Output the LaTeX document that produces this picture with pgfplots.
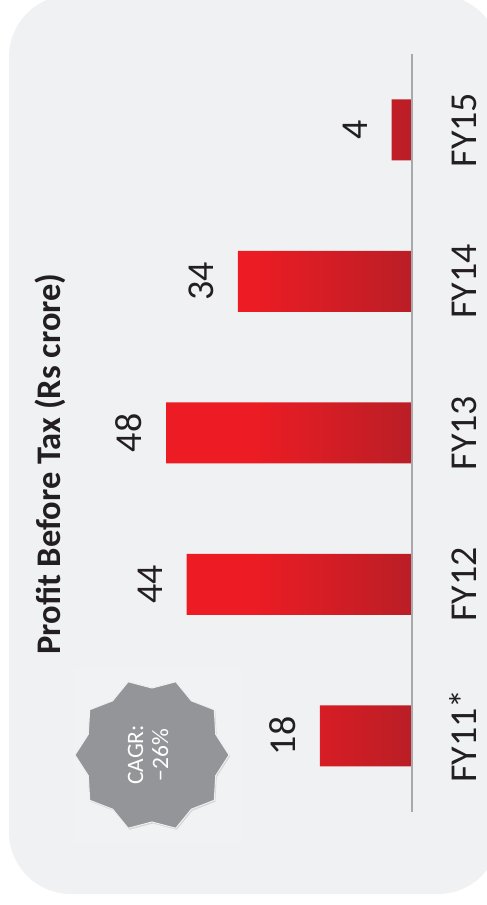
\documentclass[border=0pt]{standalone}
\usepackage{fontspec}
\setmainfont{Carlito}
\usepackage{pgfplots}
\pgfplotsset{compat=1.18}
\usetikzlibrary{shapes.geometric,shadows}
\definecolor{bg}{HTML}{F0F1F3}
\definecolor{barA}{HTML}{ED1C24}
\definecolor{barB}{HTML}{BA1E26}
\definecolor{txt}{HTML}{231F20}
\definecolor{axisgray}{HTML}{A7A9AC}
\definecolor{badge}{HTML}{939598}
\pgfdeclarehorizontalshading{barshade}{100bp}{color(0bp)=(barA); color(25bp)=(barA); color(42bp)=(barA); color(75bp)=(barB); color(100bp)=(barB)}
\begin{document}
\begin{tikzpicture}
\useasboundingbox (0,0) rectangle (487pt,905pt);
\clip (0,0) rectangle (487pt,905pt);
\fill[bg, rounded corners=62pt] (9pt,11pt) rectangle (500pt,910pt);
\fill[white, opacity=0.12] (73pt,62pt) rectangle (242pt,237pt);
\node[star, star points=10, star point ratio=1.15, shape border rotate=18, fill=badge, draw=white!85!badge, line width=1pt, minimum size=154pt, inner sep=0pt, drop shadow={opacity=0.25, shadow xshift=1pt, shadow yshift=-1.5pt}] at (152pt,150pt) {};
\node[rotate=90, text=white, align=center, font=\fontsize{23.5}{25}\selectfont] at (148pt,150pt) {CAGR:\\−26\%};
\node[rotate=90, anchor=base, text=txt, font=\fontsize{34.5}{36}\selectfont\bfseries] at (60pt,441pt) {Profit Before Tax (Rs crore)};
\begin{axis}[
  at={(412pt,169pt)}, anchor=origin,
  scale only axis, width=409.6pt, height=757.5pt,
  xbar, bar width=61pt,
  xmin=0, xmax=80, x dir=reverse,
  ymin=-0.5, ymax=4.5,
  ytick={0,1,2,3,4},
  yticklabels={FY11*,FY12,FY13,FY14,FY15},
  yticklabel pos=right,
  axis line style={draw=none},
  hide x axis,
  major tick style={draw=none},
  yticklabel style={xshift=60pt, rotate=90, anchor=base, inner sep=0pt, text=txt, font=\fontsize{38}{40}\selectfont},
  nodes near coords,
  nodes near coords style={xshift=-24.5pt, rotate=90, anchor=base, inner sep=0pt, text=txt, font=\fontsize{38}{40}\selectfont},
  /pgf/number format/assume math mode=true,
  clip=false,
]
\addplot[draw=none, shading=barshade] coordinates {(18,0) (44,1) (48,2) (34,3) (4,4)};
\draw[axisgray, line width=1.3pt] (axis cs:0,-0.5) -- (axis cs:0,4.5);
\end{axis}
\end{tikzpicture}
\end{document}
